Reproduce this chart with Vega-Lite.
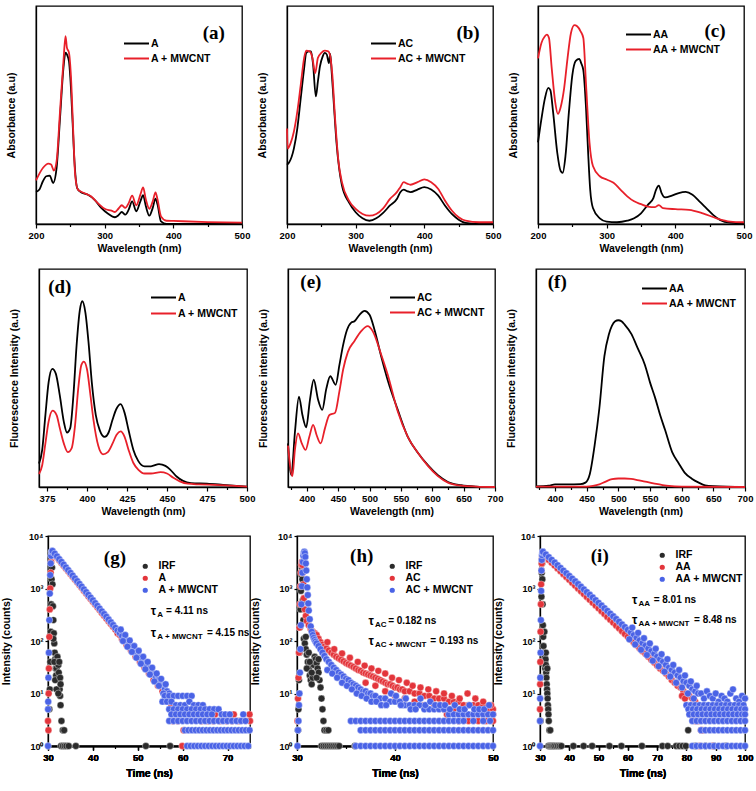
{
"$schema": "https://vega.github.io/schema/vega-lite/v6.json",
"padding": {"left": 0, "top": 5, "right": 0, "bottom": 0},
"background": "white",
"config": {
  "font": "Liberation Sans",
  "view": {"stroke": "#000", "strokeWidth": 1.3},
  "axis": {"domainColor": "#000", "domainWidth": 1.3, "tickColor": "#000", "tickWidth": 1.2, "tickSize": 4, "labelFont": "Liberation Sans", "labelFontWeight": "bold", "labelFontSize": 9.5, "labelColor": "#000", "titleFont": "Liberation Sans", "titleFontWeight": "bold", "titleFontSize": 10.5, "titleColor": "#000", "grid": false, "labelPadding": 2, "titlePadding": 4, "labelFlush": false, "labelOverlap": false},
  "legend": {"labelFont": "Liberation Sans", "labelFontWeight": "bold", "labelFontSize": 10.5, "labelColor": "#000", "padding": 0, "rowPadding": 2, "title": null, "orient": "none"}
},
"datasets": {
"a": [
{"s":"A","x":200,"y":0.147},{"s":"A","x":205,"y":0.158},{"s":"A","x":210,"y":0.196},{"s":"A","x":215,"y":0.219},{"s":"A","x":220,"y":0.222},{"s":"A","x":225,"y":0.188},{"s":"A","x":230,"y":0.257},{"s":"A","x":235,"y":0.487},{"s":"A","x":240,"y":0.717},{"s":"A","x":243,"y":0.786},{"s":"A","x":245,"y":0.778},{"s":"A","x":248,"y":0.747},{"s":"A","x":250,"y":0.671},{"s":"A","x":253,"y":0.487},{"s":"A","x":256,"y":0.288},{"s":"A","x":260,"y":0.165},{"s":"A","x":265,"y":0.147},{"s":"A","x":275,"y":0.135},{"s":"A","x":285,"y":0.112},{"s":"A","x":295,"y":0.074},{"s":"A","x":305,"y":0.047},{"s":"A","x":315,"y":0.031},{"s":"A","x":320,"y":0.040},{"s":"A","x":325,"y":0.055},{"s":"A","x":330,"y":0.043},{"s":"A","x":335,"y":0.066},{"s":"A","x":340,"y":0.104},{"s":"A","x":346,"y":0.058},{"s":"A","x":352,"y":0.104},{"s":"A","x":356,"y":0.132},{"s":"A","x":360,"y":0.081},{"s":"A","x":365,"y":0.038},{"s":"A","x":370,"y":0.074},{"s":"A","x":374,"y":0.116},{"s":"A","x":377,"y":0.089},{"s":"A","x":382,"y":0.012},{"s":"A","x":390,"y":0.0},{"s":"A","x":400,"y":0.0},{"s":"A","x":450,"y":0.0},{"s":"A","x":500,"y":0.0},
{"s":"A + MWCNT","x":200,"y":0.2},{"s":"A + MWCNT","x":210,"y":0.257},{"s":"A + MWCNT","x":218,"y":0.277},{"s":"A + MWCNT","x":222,"y":0.273},{"s":"A + MWCNT","x":226,"y":0.245},{"s":"A + MWCNT","x":230,"y":0.288},{"s":"A + MWCNT","x":235,"y":0.518},{"s":"A + MWCNT","x":240,"y":0.747},{"s":"A + MWCNT","x":243,"y":0.862},{"s":"A + MWCNT","x":245,"y":0.809},{"s":"A + MWCNT","x":248,"y":0.786},{"s":"A + MWCNT","x":251,"y":0.671},{"s":"A + MWCNT","x":254,"y":0.441},{"s":"A + MWCNT","x":257,"y":0.227},{"s":"A + MWCNT","x":261,"y":0.158},{"s":"A + MWCNT","x":270,"y":0.142},{"s":"A + MWCNT","x":280,"y":0.127},{"s":"A + MWCNT","x":290,"y":0.096},{"s":"A + MWCNT","x":300,"y":0.070},{"s":"A + MWCNT","x":310,"y":0.061},{"s":"A + MWCNT","x":315,"y":0.055},{"s":"A + MWCNT","x":320,"y":0.070},{"s":"A + MWCNT","x":325,"y":0.086},{"s":"A + MWCNT","x":330,"y":0.074},{"s":"A + MWCNT","x":335,"y":0.096},{"s":"A + MWCNT","x":340,"y":0.130},{"s":"A + MWCNT","x":346,"y":0.086},{"s":"A + MWCNT","x":352,"y":0.135},{"s":"A + MWCNT","x":356,"y":0.168},{"s":"A + MWCNT","x":360,"y":0.112},{"s":"A + MWCNT","x":365,"y":0.070},{"s":"A + MWCNT","x":370,"y":0.104},{"s":"A + MWCNT","x":374,"y":0.145},{"s":"A + MWCNT","x":377,"y":0.112},{"s":"A + MWCNT","x":382,"y":0.035},{"s":"A + MWCNT","x":390,"y":0.015},{"s":"A + MWCNT","x":400,"y":0.014},{"s":"A + MWCNT","x":450,"y":0.009},{"s":"A + MWCNT","x":500,"y":0.006}
],
"b": [
{"s":"AC","x":200,"y":0.272},{"s":"AC","x":203,"y":0.282},{"s":"AC","x":210,"y":0.346},{"s":"AC","x":215,"y":0.438},{"s":"AC","x":220,"y":0.577},{"s":"AC","x":225,"y":0.715},{"s":"AC","x":228,"y":0.785},{"s":"AC","x":232,"y":0.792},{"s":"AC","x":235,"y":0.792},{"s":"AC","x":238,"y":0.731},{"s":"AC","x":242,"y":0.585},{"s":"AC","x":245,"y":0.654},{"s":"AC","x":248,"y":0.723},{"s":"AC","x":252,"y":0.769},{"s":"AC","x":255,"y":0.785},{"s":"AC","x":258,"y":0.777},{"s":"AC","x":261,"y":0.738},{"s":"AC","x":263,"y":0.780},{"s":"AC","x":265,"y":0.7},{"s":"AC","x":268,"y":0.561},{"s":"AC","x":272,"y":0.377},{"s":"AC","x":276,"y":0.254},{"s":"AC","x":280,"y":0.177},{"s":"AC","x":290,"y":0.1},{"s":"AC","x":300,"y":0.054},{"s":"AC","x":310,"y":0.026},{"s":"AC","x":320,"y":0.015},{"s":"AC","x":330,"y":0.026},{"s":"AC","x":340,"y":0.051},{"s":"AC","x":350,"y":0.085},{"s":"AC","x":360,"y":0.115},{"s":"AC","x":365,"y":0.146},{"s":"AC","x":370,"y":0.158},{"s":"AC","x":375,"y":0.151},{"s":"AC","x":380,"y":0.146},{"s":"AC","x":390,"y":0.158},{"s":"AC","x":400,"y":0.169},{"s":"AC","x":410,"y":0.158},{"s":"AC","x":420,"y":0.131},{"s":"AC","x":430,"y":0.085},{"s":"AC","x":440,"y":0.046},{"s":"AC","x":450,"y":0.02},{"s":"AC","x":460,"y":0.005},{"s":"AC","x":480,"y":0.0},{"s":"AC","x":500,"y":0.0},
{"s":"AC + MWCNT","x":200,"y":0.438},{"s":"AC + MWCNT","x":201,"y":0.346},{"s":"AC + MWCNT","x":205,"y":0.369},{"s":"AC + MWCNT","x":210,"y":0.423},{"s":"AC + MWCNT","x":215,"y":0.515},{"s":"AC + MWCNT","x":220,"y":0.638},{"s":"AC + MWCNT","x":225,"y":0.762},{"s":"AC + MWCNT","x":228,"y":0.795},{"s":"AC + MWCNT","x":233,"y":0.792},{"s":"AC + MWCNT","x":237,"y":0.762},{"s":"AC + MWCNT","x":241,"y":0.692},{"s":"AC + MWCNT","x":245,"y":0.762},{"s":"AC + MWCNT","x":250,"y":0.785},{"s":"AC + MWCNT","x":255,"y":0.795},{"s":"AC + MWCNT","x":260,"y":0.792},{"s":"AC + MWCNT","x":263,"y":0.769},{"s":"AC + MWCNT","x":266,"y":0.685},{"s":"AC + MWCNT","x":270,"y":0.485},{"s":"AC + MWCNT","x":275,"y":0.285},{"s":"AC + MWCNT","x":280,"y":0.192},{"s":"AC + MWCNT","x":290,"y":0.108},{"s":"AC + MWCNT","x":300,"y":0.069},{"s":"AC + MWCNT","x":310,"y":0.046},{"s":"AC + MWCNT","x":320,"y":0.038},{"s":"AC + MWCNT","x":330,"y":0.046},{"s":"AC + MWCNT","x":340,"y":0.072},{"s":"AC + MWCNT","x":350,"y":0.115},{"s":"AC + MWCNT","x":360,"y":0.146},{"s":"AC + MWCNT","x":365,"y":0.169},{"s":"AC + MWCNT","x":370,"y":0.192},{"s":"AC + MWCNT","x":375,"y":0.185},{"s":"AC + MWCNT","x":380,"y":0.18},{"s":"AC + MWCNT","x":390,"y":0.192},{"s":"AC + MWCNT","x":400,"y":0.205},{"s":"AC + MWCNT","x":410,"y":0.192},{"s":"AC + MWCNT","x":420,"y":0.162},{"s":"AC + MWCNT","x":430,"y":0.108},{"s":"AC + MWCNT","x":440,"y":0.062},{"s":"AC + MWCNT","x":450,"y":0.031},{"s":"AC + MWCNT","x":460,"y":0.015},{"s":"AC + MWCNT","x":480,"y":0.008},{"s":"AC + MWCNT","x":500,"y":0.008}
],
"c": [
{"s":"AA","x":200,"y":0.374},{"s":"AA","x":205,"y":0.482},{"s":"AA","x":210,"y":0.575},{"s":"AA","x":215,"y":0.624},{"s":"AA","x":218,"y":0.614},{"s":"AA","x":222,"y":0.513},{"s":"AA","x":228,"y":0.328},{"s":"AA","x":233,"y":0.243},{"s":"AA","x":236,"y":0.235},{"s":"AA","x":240,"y":0.312},{"s":"AA","x":245,"y":0.513},{"s":"AA","x":250,"y":0.683},{"s":"AA","x":255,"y":0.748},{"s":"AA","x":260,"y":0.757},{"s":"AA","x":263,"y":0.737},{"s":"AA","x":266,"y":0.706},{"s":"AA","x":270,"y":0.529},{"s":"AA","x":273,"y":0.328},{"s":"AA","x":276,"y":0.158},{"s":"AA","x":280,"y":0.073},{"s":"AA","x":290,"y":0.026},{"s":"AA","x":300,"y":0.011},{"s":"AA","x":315,"y":0.008},{"s":"AA","x":330,"y":0.015},{"s":"AA","x":340,"y":0.026},{"s":"AA","x":350,"y":0.049},{"s":"AA","x":360,"y":0.088},{"s":"AA","x":368,"y":0.119},{"s":"AA","x":372,"y":0.158},{"s":"AA","x":376,"y":0.176},{"s":"AA","x":380,"y":0.142},{"s":"AA","x":385,"y":0.122},{"s":"AA","x":395,"y":0.130},{"s":"AA","x":405,"y":0.142},{"s":"AA","x":415,"y":0.147},{"s":"AA","x":425,"y":0.134},{"s":"AA","x":435,"y":0.104},{"s":"AA","x":445,"y":0.073},{"s":"AA","x":455,"y":0.042},{"s":"AA","x":465,"y":0.019},{"s":"AA","x":480,"y":0.006},{"s":"AA","x":500,"y":0.003},
{"s":"AA + MWCNT","x":200,"y":0.760},{"s":"AA + MWCNT","x":205,"y":0.830},{"s":"AA + MWCNT","x":210,"y":0.861},{"s":"AA + MWCNT","x":213,"y":0.869},{"s":"AA + MWCNT","x":216,"y":0.853},{"s":"AA + MWCNT","x":220,"y":0.714},{"s":"AA + MWCNT","x":225,"y":0.560},{"s":"AA + MWCNT","x":229,"y":0.505},{"s":"AA + MWCNT","x":233,"y":0.536},{"s":"AA + MWCNT","x":238,"y":0.621},{"s":"AA + MWCNT","x":243,"y":0.760},{"s":"AA + MWCNT","x":248,"y":0.876},{"s":"AA + MWCNT","x":253,"y":0.912},{"s":"AA + MWCNT","x":257,"y":0.907},{"s":"AA + MWCNT","x":262,"y":0.884},{"s":"AA + MWCNT","x":266,"y":0.853},{"s":"AA + MWCNT","x":270,"y":0.637},{"s":"AA + MWCNT","x":275,"y":0.374},{"s":"AA + MWCNT","x":280,"y":0.266},{"s":"AA + MWCNT","x":290,"y":0.219},{"s":"AA + MWCNT","x":300,"y":0.204},{"s":"AA + MWCNT","x":310,"y":0.189},{"s":"AA + MWCNT","x":320,"y":0.158},{"s":"AA + MWCNT","x":330,"y":0.127},{"s":"AA + MWCNT","x":340,"y":0.104},{"s":"AA + MWCNT","x":350,"y":0.091},{"s":"AA + MWCNT","x":360,"y":0.080},{"s":"AA + MWCNT","x":370,"y":0.077},{"s":"AA + MWCNT","x":376,"y":0.087},{"s":"AA + MWCNT","x":382,"y":0.073},{"s":"AA + MWCNT","x":400,"y":0.068},{"s":"AA + MWCNT","x":420,"y":0.065},{"s":"AA + MWCNT","x":440,"y":0.049},{"s":"AA + MWCNT","x":460,"y":0.026},{"s":"AA + MWCNT","x":480,"y":0.011},{"s":"AA + MWCNT","x":500,"y":0.008}
],
"d": [
{"s":"A","x":370,"y":0.107},{"s":"A","x":372,"y":0.17},{"s":"A","x":374,"y":0.33},{"s":"A","x":376,"y":0.48},{"s":"A","x":378.3,"y":0.542},{"s":"A","x":380.5,"y":0.52},{"s":"A","x":383,"y":0.42},{"s":"A","x":385.5,"y":0.3},{"s":"A","x":387.5,"y":0.25},{"s":"A","x":389.5,"y":0.27},{"s":"A","x":391.5,"y":0.42},{"s":"A","x":393.5,"y":0.65},{"s":"A","x":395.5,"y":0.81},{"s":"A","x":397.1,"y":0.852},{"s":"A","x":399,"y":0.80},{"s":"A","x":401,"y":0.66},{"s":"A","x":403,"y":0.48},{"s":"A","x":405.5,"y":0.33},{"s":"A","x":408,"y":0.26},{"s":"A","x":411,"y":0.23},{"s":"A","x":413.5,"y":0.25},{"s":"A","x":416,"y":0.31},{"s":"A","x":418.5,"y":0.36},{"s":"A","x":421,"y":0.38},{"s":"A","x":423.5,"y":0.34},{"s":"A","x":426,"y":0.26},{"s":"A","x":429,"y":0.17},{"s":"A","x":432,"y":0.12},{"s":"A","x":436,"y":0.095},{"s":"A","x":440,"y":0.095},{"s":"A","x":445,"y":0.105},{"s":"A","x":449,"y":0.097},{"s":"A","x":452,"y":0.08},{"s":"A","x":456,"y":0.048},{"s":"A","x":460,"y":0.028},{"s":"A","x":465,"y":0.018},{"s":"A","x":475,"y":0.015},{"s":"A","x":485,"y":0.01},{"s":"A","x":500,"y":0.002},
{"s":"A + MWCNT","x":370,"y":0.06},{"s":"A + MWCNT","x":372,"y":0.1},{"s":"A + MWCNT","x":374,"y":0.2},{"s":"A + MWCNT","x":376,"y":0.3},{"s":"A + MWCNT","x":378.5,"y":0.35},{"s":"A + MWCNT","x":381,"y":0.33},{"s":"A + MWCNT","x":383,"y":0.27},{"s":"A + MWCNT","x":385.5,"y":0.2},{"s":"A + MWCNT","x":388,"y":0.16},{"s":"A + MWCNT","x":390.5,"y":0.18},{"s":"A + MWCNT","x":392.5,"y":0.28},{"s":"A + MWCNT","x":394.5,"y":0.45},{"s":"A + MWCNT","x":396.5,"y":0.56},{"s":"A + MWCNT","x":398,"y":0.575},{"s":"A + MWCNT","x":400,"y":0.54},{"s":"A + MWCNT","x":402,"y":0.43},{"s":"A + MWCNT","x":404,"y":0.31},{"s":"A + MWCNT","x":407,"y":0.19},{"s":"A + MWCNT","x":410,"y":0.15},{"s":"A + MWCNT","x":413,"y":0.16},{"s":"A + MWCNT","x":416,"y":0.2},{"s":"A + MWCNT","x":418.5,"y":0.24},{"s":"A + MWCNT","x":421,"y":0.255},{"s":"A + MWCNT","x":423.5,"y":0.23},{"s":"A + MWCNT","x":426,"y":0.17},{"s":"A + MWCNT","x":429,"y":0.11},{"s":"A + MWCNT","x":432,"y":0.08},{"s":"A + MWCNT","x":436,"y":0.062},{"s":"A + MWCNT","x":440,"y":0.062},{"s":"A + MWCNT","x":446,"y":0.068},{"s":"A + MWCNT","x":450,"y":0.062},{"s":"A + MWCNT","x":454,"y":0.042},{"s":"A + MWCNT","x":458,"y":0.026},{"s":"A + MWCNT","x":463,"y":0.015},{"s":"A + MWCNT","x":470,"y":0.012},{"s":"A + MWCNT","x":480,"y":0.01},{"s":"A + MWCNT","x":490,"y":0.006},{"s":"A + MWCNT","x":500,"y":0.002}
],
"e": [
{"s":"AC","x":370,"y":0.2},{"s":"AC","x":375.3,"y":0.054},{"s":"AC","x":381,"y":0.25},{"s":"AC","x":387.5,"y":0.415},{"s":"AC","x":393,"y":0.33},{"s":"AC","x":399,"y":0.274},{"s":"AC","x":405,"y":0.4},{"s":"AC","x":411,"y":0.492},{"s":"AC","x":418,"y":0.4},{"s":"AC","x":424.6,"y":0.354},{"s":"AC","x":431,"y":0.45},{"s":"AC","x":437.4,"y":0.508},{"s":"AC","x":446,"y":0.469},{"s":"AC","x":452,"y":0.56},{"s":"AC","x":457.5,"y":0.646},{"s":"AC","x":464,"y":0.72},{"s":"AC","x":470.8,"y":0.754},{"s":"AC","x":476,"y":0.76},{"s":"AC","x":484,"y":0.79},{"s":"AC","x":492,"y":0.808},{"s":"AC","x":500,"y":0.79},{"s":"AC","x":508,"y":0.72},{"s":"AC","x":518.5,"y":0.6},{"s":"AC","x":529,"y":0.49},{"s":"AC","x":545,"y":0.354},{"s":"AC","x":561,"y":0.23},{"s":"AC","x":577,"y":0.157},{"s":"AC","x":593,"y":0.1},{"s":"AC","x":609,"y":0.054},{"s":"AC","x":625,"y":0.023},{"s":"AC","x":646,"y":0.008},{"s":"AC","x":670,"y":0.002},{"s":"AC","x":700,"y":0.0},
{"s":"AC + MWCNT","x":370,"y":0.19},{"s":"AC + MWCNT","x":377,"y":0.05},{"s":"AC + MWCNT","x":381,"y":0.17},{"s":"AC + MWCNT","x":386,"y":0.246},{"s":"AC + MWCNT","x":392,"y":0.2},{"s":"AC + MWCNT","x":398,"y":0.17},{"s":"AC + MWCNT","x":404,"y":0.23},{"s":"AC + MWCNT","x":410,"y":0.285},{"s":"AC + MWCNT","x":416,"y":0.235},{"s":"AC + MWCNT","x":422,"y":0.2},{"s":"AC + MWCNT","x":429,"y":0.27},{"s":"AC + MWCNT","x":436,"y":0.33},{"s":"AC + MWCNT","x":445,"y":0.34},{"s":"AC + MWCNT","x":452,"y":0.44},{"s":"AC + MWCNT","x":458,"y":0.54},{"s":"AC + MWCNT","x":465.5,"y":0.62},{"s":"AC + MWCNT","x":476,"y":0.67},{"s":"AC + MWCNT","x":486.7,"y":0.715},{"s":"AC + MWCNT","x":497,"y":0.738},{"s":"AC + MWCNT","x":505,"y":0.715},{"s":"AC + MWCNT","x":518.5,"y":0.608},{"s":"AC + MWCNT","x":529,"y":0.515},{"s":"AC + MWCNT","x":545,"y":0.346},{"s":"AC + MWCNT","x":561,"y":0.23},{"s":"AC + MWCNT","x":577,"y":0.157},{"s":"AC + MWCNT","x":593,"y":0.097},{"s":"AC + MWCNT","x":609,"y":0.05},{"s":"AC + MWCNT","x":625,"y":0.02},{"s":"AC + MWCNT","x":646,"y":0.006},{"s":"AC + MWCNT","x":670,"y":0.002},{"s":"AC + MWCNT","x":700,"y":0.0}
],
"f": [
{"s":"AA","x":370,"y":0.003},{"s":"AA","x":390,"y":0.006},{"s":"AA","x":400,"y":0.012},{"s":"AA","x":420,"y":0.012},{"s":"AA","x":440,"y":0.013},{"s":"AA","x":448,"y":0.02},{"s":"AA","x":455,"y":0.06},{"s":"AA","x":463,"y":0.2},{"s":"AA","x":470,"y":0.36},{"s":"AA","x":478,"y":0.6},{"s":"AA","x":485,"y":0.7},{"s":"AA","x":490,"y":0.74},{"s":"AA","x":495,"y":0.76},{"s":"AA","x":500,"y":0.765},{"s":"AA","x":505,"y":0.76},{"s":"AA","x":510,"y":0.745},{"s":"AA","x":521,"y":0.7},{"s":"AA","x":530,"y":0.64},{"s":"AA","x":542,"y":0.56},{"s":"AA","x":550,"y":0.48},{"s":"AA","x":558,"y":0.41},{"s":"AA","x":566,"y":0.33},{"s":"AA","x":574,"y":0.26},{"s":"AA","x":585,"y":0.16},{"s":"AA","x":595,"y":0.11},{"s":"AA","x":605,"y":0.065},{"s":"AA","x":616,"y":0.038},{"s":"AA","x":627,"y":0.02},{"s":"AA","x":637,"y":0.008},{"s":"AA","x":650,"y":0.004},{"s":"AA","x":700,"y":0.0},
{"s":"AA + MWCNT","x":370,"y":0.002},{"s":"AA + MWCNT","x":450,"y":0.002},{"s":"AA + MWCNT","x":460,"y":0.005},{"s":"AA + MWCNT","x":470,"y":0.012},{"s":"AA + MWCNT","x":480,"y":0.025},{"s":"AA + MWCNT","x":490,"y":0.036},{"s":"AA + MWCNT","x":500,"y":0.039},{"s":"AA + MWCNT","x":510,"y":0.039},{"s":"AA + MWCNT","x":520,"y":0.037},{"s":"AA + MWCNT","x":530,"y":0.032},{"s":"AA + MWCNT","x":540,"y":0.026},{"s":"AA + MWCNT","x":550,"y":0.02},{"s":"AA + MWCNT","x":560,"y":0.014},{"s":"AA + MWCNT","x":570,"y":0.009},{"s":"AA + MWCNT","x":580,"y":0.005},{"s":"AA + MWCNT","x":600,"y":0.002},{"s":"AA + MWCNT","x":700,"y":0.0}
],
"g": [
{"s":"IRF","t":30.3,"c":5},{"s":"IRF","t":30.4,"c":12},{"s":"IRF","t":30.5,"c":40},{"s":"IRF","t":30.6,"c":150},{"s":"IRF","t":30.7,"c":500},{"s":"IRF","t":30.8,"c":1500},{"s":"IRF","t":30.9,"c":2500},{"s":"IRF","t":31.0,"c":1200},{"s":"IRF","t":31.1,"c":460},{"s":"IRF","t":31.2,"c":250},{"s":"IRF","t":31.3,"c":140},{"s":"IRF","t":31.4,"c":90},{"s":"IRF","t":31.5,"c":60},{"s":"IRF","t":31.6,"c":45},{"s":"IRF","t":31.7,"c":30},{"s":"IRF","t":31.8,"c":22},{"s":"IRF","t":31.9,"c":30},{"s":"IRF","t":32.0,"c":45},{"s":"IRF","t":32.1,"c":50},{"s":"IRF","t":32.2,"c":40},{"s":"IRF","t":32.3,"c":35},{"s":"IRF","t":32.4,"c":25},{"s":"IRF","t":32.5,"c":18},{"s":"IRF","t":32.6,"c":12},{"s":"IRF","t":32.7,"c":9},{"s":"IRF","t":32.8,"c":6},{"s":"IRF","t":33.0,"c":3},{"s":"IRF","t":33.3,"c":2},{"s":"IRF","t":33.6,"c":2},{"s":"IRF","t":31.2,"c":110},{"s":"IRF","t":31.4,"c":40},{"s":"IRF","t":31.6,"c":18},{"s":"IRF","t":31.9,"c":12},{"s":"IRF","t":32.3,"c":10},{"s":"IRF","t":32.5,"c":40},{"s":"IRF","t":32.7,"c":20},{"s":"IRF","t":32.8,"c":15},{"s":"IRF","t":32.9,"c":1},{"s":"IRF","t":33.3,"c":1},{"s":"IRF","t":33.7,"c":1},{"s":"IRF","t":34.1,"c":1},{"s":"IRF","t":34.6,"c":1},{"s":"IRF","t":36.2,"c":1},{"s":"IRF","t":51.8,"c":1},{"s":"IRF","t":57.2,"c":1},
{"s":"A","t":30.0,"c":3},{"s":"A","t":30.1,"c":2},{"s":"A","t":30.15,"c":10},{"s":"A","t":30.2,"c":30},{"s":"A","t":30.3,"c":120},{"s":"A","t":30.4,"c":400},{"s":"A","t":30.5,"c":1000},{"s":"A","t":30.6,"c":2000},{"s":"A","t":30.7,"c":3200},{"s":"A","t":30.8,"c":4200},{"s":"A","t":30.9,"c":4800},
{"s":"A","t":31,"c":5000},{"s":"A","t":31.5,"c":4430},{"s":"A","t":32,"c":3920},{"s":"A","t":32.5,"c":3470},{"s":"A","t":33,"c":3070},{"s":"A","t":33.5,"c":2720},{"s":"A","t":34,"c":2410},{"s":"A","t":34.5,"c":2130},{"s":"A","t":35,"c":1890},{"s":"A","t":35.5,"c":1670},{"s":"A","t":36,"c":1480},{"s":"A","t":36.5,"c":1310},{"s":"A","t":37,"c":1160},{"s":"A","t":37.5,"c":1030},{"s":"A","t":38,"c":910},{"s":"A","t":38.5,"c":805},{"s":"A","t":39,"c":713},{"s":"A","t":39.5,"c":631},{"s":"A","t":40,"c":559},{"s":"A","t":40.5,"c":495},{"s":"A","t":41,"c":438},{"s":"A","t":41.5,"c":388},{"s":"A","t":42,"c":343},{"s":"A","t":42.5,"c":304},{"s":"A","t":43,"c":269},{"s":"A","t":43.5,"c":238},{"s":"A","t":44,"c":211},{"s":"A","t":44.5,"c":187},{"s":"A","t":45,"c":165},{"s":"A","t":45.5,"c":140},{"s":"A","t":46,"c":130},{"s":"A","t":46.5,"c":108},{"s":"A","t":47,"c":102},{"s":"A","t":47.5,"c":84},{"s":"A","t":48,"c":80},{"s":"A","t":48.5,"c":66},{"s":"A","t":49,"c":63},{"s":"A","t":49.5,"c":50},{"s":"A","t":50,"c":49},{"s":"A","t":50.5,"c":40},{"s":"A","t":51,"c":38},{"s":"A","t":51.5,"c":31},{"s":"A","t":52,"c":30},{"s":"A","t":52.5,"c":24},{"s":"A","t":53,"c":24},{"s":"A","t":53.5,"c":18},{"s":"A","t":54,"c":18},{"s":"A","t":54.5,"c":14},{"s":"A","t":55,"c":15},{"s":"A","t":55.5,"c":11},{"s":"A","t":56,"c":11},{"s":"A","t":56.5,"c":8},{"s":"A","t":57,"c":9},{"s":"A","t":57.5,"c":6},{"s":"A","t":58,"c":5},
{"s":"A","t":57.8,"c":3},{"s":"A","t":58.9,"c":3},{"s":"A","t":64.2,"c":3},{"s":"A","t":65.6,"c":3},{"s":"A","t":66.8,"c":3},{"s":"A","t":68.3,"c":3},{"s":"A","t":69.8,"c":3},{"s":"A","t":71,"c":3},{"s":"A","t":72.5,"c":3},{"s":"A","t":75,"c":3},{"s":"A","t":67.2,"c":4},{"s":"A","t":71.4,"c":4},{"s":"A","t":74.9,"c":4},{"s":"A","t":60.2,"c":2},{"s":"A","t":59.9,"c":1},{"s":"A","t":56.2,"c":7},{"s":"A","t":57.2,"c":5},
{"s":"A + MWCNT","t":30.0,"c":1},{"s":"A + MWCNT","t":30.02,"c":5},{"s":"A + MWCNT","t":30.05,"c":7},{"s":"A + MWCNT","t":30.1,"c":20},{"s":"A + MWCNT","t":30.2,"c":60},{"s":"A + MWCNT","t":30.3,"c":250},{"s":"A + MWCNT","t":30.4,"c":800},{"s":"A + MWCNT","t":30.5,"c":1800},{"s":"A + MWCNT","t":30.6,"c":3000},{"s":"A + MWCNT","t":30.7,"c":4200},{"s":"A + MWCNT","t":30.8,"c":5000},{"s":"A + MWCNT","t":30.9,"c":5200},
{"s":"A + MWCNT","t":31,"c":5200},{"s":"A + MWCNT","t":31.5,"c":4610},{"s":"A + MWCNT","t":32,"c":4090},{"s":"A + MWCNT","t":32.5,"c":3620},{"s":"A + MWCNT","t":33,"c":3210},{"s":"A + MWCNT","t":33.5,"c":2850},{"s":"A + MWCNT","t":34,"c":2520},{"s":"A + MWCNT","t":34.5,"c":2240},{"s":"A + MWCNT","t":35,"c":1985},{"s":"A + MWCNT","t":35.5,"c":1760},{"s":"A + MWCNT","t":36,"c":1560},{"s":"A + MWCNT","t":36.5,"c":1380},{"s":"A + MWCNT","t":37,"c":1225},{"s":"A + MWCNT","t":37.5,"c":1086},{"s":"A + MWCNT","t":38,"c":963},{"s":"A + MWCNT","t":38.5,"c":853},{"s":"A + MWCNT","t":39,"c":756},{"s":"A + MWCNT","t":39.5,"c":671},{"s":"A + MWCNT","t":40,"c":595},{"s":"A + MWCNT","t":40.5,"c":527},{"s":"A + MWCNT","t":41,"c":467},{"s":"A + MWCNT","t":41.5,"c":414},{"s":"A + MWCNT","t":42,"c":367},{"s":"A + MWCNT","t":42.5,"c":326},{"s":"A + MWCNT","t":43,"c":289},{"s":"A + MWCNT","t":43.5,"c":256},{"s":"A + MWCNT","t":44,"c":227},{"s":"A + MWCNT","t":44.5,"c":201},{"s":"A + MWCNT","t":45,"c":178},{"s":"A + MWCNT","t":45.5,"c":158},{"s":"A + MWCNT","t":46,"c":140},{"s":"A + MWCNT","t":46.5,"c":124},{"s":"A + MWCNT","t":47,"c":110},{"s":"A + MWCNT","t":47.5,"c":98},{"s":"A + MWCNT","t":48,"c":87},{"s":"A + MWCNT","t":48.5,"c":77},{"s":"A + MWCNT","t":49,"c":68},{"s":"A + MWCNT","t":49.5,"c":60},{"s":"A + MWCNT","t":50,"c":54},{"s":"A + MWCNT","t":50.5,"c":48},{"s":"A + MWCNT","t":51,"c":42},{"s":"A + MWCNT","t":51.5,"c":37},{"s":"A + MWCNT","t":52,"c":33},{"s":"A + MWCNT","t":52.5,"c":29},{"s":"A + MWCNT","t":53,"c":26},{"s":"A + MWCNT","t":53.5,"c":23},{"s":"A + MWCNT","t":54,"c":20},{"s":"A + MWCNT","t":54.5,"c":18},{"s":"A + MWCNT","t":55,"c":16},{"s":"A + MWCNT","t":55.5,"c":14},{"s":"A + MWCNT","t":56,"c":12},{"s":"A + MWCNT","t":56.5,"c":11},{"s":"A + MWCNT","t":57,"c":10},
{"s":"A + MWCNT","t":46.2,"c":165},{"s":"A + MWCNT","t":47.2,"c":130},{"s":"A + MWCNT","t":48.2,"c":102},{"s":"A + MWCNT","t":49.2,"c":80},{"s":"A + MWCNT","t":50.2,"c":65},{"s":"A + MWCNT","t":51.2,"c":50},{"s":"A + MWCNT","t":52.2,"c":40},{"s":"A + MWCNT","t":53.2,"c":31},{"s":"A + MWCNT","t":54.2,"c":24},{"s":"A + MWCNT","t":55.2,"c":19},{"s":"A + MWCNT","t":56.2,"c":15},
{"s":"A + MWCNT","t":46.7,"c":100},{"s":"A + MWCNT","t":47.7,"c":78},{"s":"A + MWCNT","t":48.7,"c":62},{"s":"A + MWCNT","t":49.7,"c":48},{"s":"A + MWCNT","t":50.7,"c":37},{"s":"A + MWCNT","t":51.7,"c":29},{"s":"A + MWCNT","t":52.7,"c":23},{"s":"A + MWCNT","t":53.7,"c":17},{"s":"A + MWCNT","t":54.7,"c":14},{"s":"A + MWCNT","t":55.7,"c":10},{"s":"A + MWCNT","t":56.7,"c":8},
{"s":"A + MWCNT","t":56,"c":9},{"s":"A + MWCNT","t":57,"c":9},{"s":"A + MWCNT","t":58,"c":9},{"s":"A + MWCNT","t":59,"c":9},{"s":"A + MWCNT","t":60,"c":9},{"s":"A + MWCNT","t":61,"c":9},{"s":"A + MWCNT","t":62,"c":9},
{"s":"A + MWCNT","t":55.5,"c":7},{"s":"A + MWCNT","t":56.5,"c":7},{"s":"A + MWCNT","t":57.5,"c":7},{"s":"A + MWCNT","t":58.5,"c":6},{"s":"A + MWCNT","t":59.5,"c":6},{"s":"A + MWCNT","t":60.5,"c":6},{"s":"A + MWCNT","t":61.5,"c":7},{"s":"A + MWCNT","t":62.5,"c":6},{"s":"A + MWCNT","t":63.5,"c":6},{"s":"A + MWCNT","t":64.5,"c":6},
{"s":"A + MWCNT","t":57,"c":5},{"s":"A + MWCNT","t":58,"c":5},{"s":"A + MWCNT","t":59,"c":5},{"s":"A + MWCNT","t":60,"c":5},{"s":"A + MWCNT","t":61,"c":5},{"s":"A + MWCNT","t":62,"c":5},{"s":"A + MWCNT","t":63,"c":5},{"s":"A + MWCNT","t":64,"c":5},{"s":"A + MWCNT","t":65,"c":5},{"s":"A + MWCNT","t":66,"c":5},{"s":"A + MWCNT","t":67,"c":5},{"s":"A + MWCNT","t":68,"c":5},
{"s":"A + MWCNT","t":57.5,"c":4},{"s":"A + MWCNT","t":58.5,"c":4},{"s":"A + MWCNT","t":59.5,"c":4},{"s":"A + MWCNT","t":60.5,"c":4},{"s":"A + MWCNT","t":61.5,"c":4},{"s":"A + MWCNT","t":62.5,"c":4},{"s":"A + MWCNT","t":63.5,"c":4},{"s":"A + MWCNT","t":64.5,"c":4},{"s":"A + MWCNT","t":65.5,"c":4},{"s":"A + MWCNT","t":66.5,"c":4},{"s":"A + MWCNT","t":68.7,"c":4},{"s":"A + MWCNT","t":69.5,"c":4},{"s":"A + MWCNT","t":70.5,"c":4},{"s":"A + MWCNT","t":73.5,"c":4},
{"s":"A + MWCNT","t":57,"c":3},{"s":"A + MWCNT","t":58,"c":3},{"s":"A + MWCNT","t":59,"c":3},{"s":"A + MWCNT","t":60,"c":3},{"s":"A + MWCNT","t":61,"c":3},{"s":"A + MWCNT","t":62,"c":3},{"s":"A + MWCNT","t":63,"c":3},{"s":"A + MWCNT","t":64,"c":3},{"s":"A + MWCNT","t":65,"c":3},{"s":"A + MWCNT","t":66,"c":3},{"s":"A + MWCNT","t":67,"c":3},{"s":"A + MWCNT","t":68,"c":3},{"s":"A + MWCNT","t":69,"c":3},{"s":"A + MWCNT","t":70,"c":3},{"s":"A + MWCNT","t":71,"c":3},{"s":"A + MWCNT","t":72,"c":3},{"s":"A + MWCNT","t":73,"c":3},{"s":"A + MWCNT","t":74,"c":3},
{"s":"A + MWCNT","t":60.5,"c":2},{"s":"A + MWCNT","t":61.3,"c":2},{"s":"A + MWCNT","t":62.1,"c":2},{"s":"A + MWCNT","t":62.9,"c":2},{"s":"A + MWCNT","t":63.7,"c":2},{"s":"A + MWCNT","t":64.5,"c":2},{"s":"A + MWCNT","t":65.3,"c":2},{"s":"A + MWCNT","t":66.1,"c":2},{"s":"A + MWCNT","t":66.9,"c":2},{"s":"A + MWCNT","t":67.7,"c":2},{"s":"A + MWCNT","t":68.5,"c":2},{"s":"A + MWCNT","t":69.3,"c":2},{"s":"A + MWCNT","t":70.1,"c":2},{"s":"A + MWCNT","t":70.9,"c":2},{"s":"A + MWCNT","t":71.7,"c":2},{"s":"A + MWCNT","t":72.5,"c":2},{"s":"A + MWCNT","t":73.3,"c":2},{"s":"A + MWCNT","t":74.1,"c":2},{"s":"A + MWCNT","t":74.9,"c":2},
{"s":"A + MWCNT","t":61,"c":1},{"s":"A + MWCNT","t":61.8,"c":1},{"s":"A + MWCNT","t":62.6,"c":1},{"s":"A + MWCNT","t":63.4,"c":1},{"s":"A + MWCNT","t":64.2,"c":1},{"s":"A + MWCNT","t":65,"c":1},{"s":"A + MWCNT","t":65.8,"c":1},{"s":"A + MWCNT","t":66.6,"c":1},{"s":"A + MWCNT","t":67.4,"c":1},{"s":"A + MWCNT","t":68.2,"c":1},{"s":"A + MWCNT","t":69,"c":1},{"s":"A + MWCNT","t":69.8,"c":1},{"s":"A + MWCNT","t":70.6,"c":1},{"s":"A + MWCNT","t":71.4,"c":1},{"s":"A + MWCNT","t":72.2,"c":1},{"s":"A + MWCNT","t":73,"c":1},{"s":"A + MWCNT","t":73.8,"c":1},{"s":"A + MWCNT","t":74.6,"c":1}
],
"h": [
{"s":"IRF","t":30.1,"c":2},{"s":"IRF","t":30.15,"c":5},{"s":"IRF","t":30.2,"c":18},{"s":"IRF","t":30.25,"c":60},{"s":"IRF","t":30.3,"c":180},{"s":"IRF","t":30.35,"c":400},{"s":"IRF","t":30.4,"c":900},{"s":"IRF","t":30.45,"c":1800},{"s":"IRF","t":30.5,"c":2500},{"s":"IRF","t":30.55,"c":1500},{"s":"IRF","t":30.6,"c":600},{"s":"IRF","t":30.65,"c":250},{"s":"IRF","t":30.7,"c":110},{"s":"IRF","t":30.8,"c":90},{"s":"IRF","t":30.9,"c":70},{"s":"IRF","t":31.0,"c":55},{"s":"IRF","t":31.1,"c":40},{"s":"IRF","t":31.2,"c":30},{"s":"IRF","t":31.3,"c":22},{"s":"IRF","t":31.4,"c":18},{"s":"IRF","t":31.5,"c":15},{"s":"IRF","t":31.6,"c":20},{"s":"IRF","t":31.7,"c":35},{"s":"IRF","t":31.8,"c":50},{"s":"IRF","t":31.9,"c":45},{"s":"IRF","t":32.0,"c":38},{"s":"IRF","t":32.1,"c":30},{"s":"IRF","t":32.2,"c":25},{"s":"IRF","t":32.3,"c":18},{"s":"IRF","t":32.4,"c":13},{"s":"IRF","t":32.5,"c":8},{"s":"IRF","t":32.6,"c":5},{"s":"IRF","t":32.7,"c":3},{"s":"IRF","t":32.8,"c":2},{"s":"IRF","t":33.0,"c":2},{"s":"IRF","t":33.2,"c":2},{"s":"IRF","t":31.0,"c":30},{"s":"IRF","t":31.2,"c":60},{"s":"IRF","t":31.5,"c":25},{"s":"IRF","t":31.3,"c":40},{"s":"IRF","t":30.9,"c":120},{"s":"IRF","t":32.0,"c":20},{"s":"IRF","t":32.2,"c":45},{"s":"IRF","t":32.5,"c":1},{"s":"IRF","t":32.7,"c":1},{"s":"IRF","t":32.9,"c":1},{"s":"IRF","t":33.1,"c":1},{"s":"IRF","t":33.3,"c":1},{"s":"IRF","t":33.5,"c":1},{"s":"IRF","t":33.7,"c":1},{"s":"IRF","t":33.9,"c":1},{"s":"IRF","t":34.1,"c":1},{"s":"IRF","t":34.3,"c":1},{"s":"IRF","t":35.9,"c":1},
{"s":"AC","t":30.05,"c":3},{"s":"AC","t":30.1,"c":8},{"s":"AC","t":30.15,"c":20},{"s":"AC","t":30.2,"c":60},{"s":"AC","t":30.25,"c":180},{"s":"AC","t":30.3,"c":500},{"s":"AC","t":30.35,"c":1100},{"s":"AC","t":30.4,"c":2000},{"s":"AC","t":30.45,"c":2800},{"s":"AC","t":30.5,"c":3200},{"s":"AC","t":30.55,"c":2800},{"s":"AC","t":30.6,"c":2000},{"s":"AC","t":30.65,"c":1200},{"s":"AC","t":30.7,"c":650},{"s":"AC","t":30.8,"c":400},{"s":"AC","t":30.9,"c":300},{"s":"AC","t":31.0,"c":240},
{"s":"AC","t":31.2,"c":200},{"s":"AC","t":31.4,"c":170},{"s":"AC","t":31.6,"c":150},{"s":"AC","t":31.8,"c":140},{"s":"AC","t":32.0,"c":130},{"s":"AC","t":32.2,"c":110},{"s":"AC","t":32.4,"c":95},{"s":"AC","t":32.6,"c":85},{"s":"AC","t":32.8,"c":78},{"s":"AC","t":33.0,"c":72},{"s":"AC","t":33.25,"c":66},{"s":"AC","t":33.5,"c":60},{"s":"AC","t":33.75,"c":55},{"s":"AC","t":34.0,"c":50},{"s":"AC","t":34.25,"c":47},{"s":"AC","t":34.5,"c":44},{"s":"AC","t":34.75,"c":41},{"s":"AC","t":35.0,"c":38},{"s":"AC","t":35.25,"c":36},{"s":"AC","t":35.5,"c":34},{"s":"AC","t":35.75,"c":32},{"s":"AC","t":36.0,"c":30},{"s":"AC","t":36.25,"c":28},{"s":"AC","t":36.5,"c":27},{"s":"AC","t":36.75,"c":25},{"s":"AC","t":37.0,"c":24},{"s":"AC","t":37.25,"c":23},{"s":"AC","t":37.5,"c":22},{"s":"AC","t":37.75,"c":21},{"s":"AC","t":38.0,"c":20},{"s":"AC","t":38.25,"c":19},{"s":"AC","t":38.5,"c":18},{"s":"AC","t":38.75,"c":17},{"s":"AC","t":39.0,"c":16},{"s":"AC","t":39.25,"c":15},{"s":"AC","t":39.5,"c":15},{"s":"AC","t":39.75,"c":14},{"s":"AC","t":40.0,"c":13},{"s":"AC","t":40.25,"c":13},{"s":"AC","t":40.5,"c":12},{"s":"AC","t":40.75,"c":12},{"s":"AC","t":41.0,"c":11},{"s":"AC","t":41.5,"c":11},{"s":"AC","t":42.0,"c":10},{"s":"AC","t":42.5,"c":10},{"s":"AC","t":43.0,"c":9},{"s":"AC","t":43.5,"c":9},{"s":"AC","t":44.0,"c":8},{"s":"AC","t":44.5,"c":8},{"s":"AC","t":45.0,"c":8},{"s":"AC","t":45.5,"c":7},{"s":"AC","t":46.0,"c":7},{"s":"AC","t":46.5,"c":7},{"s":"AC","t":47.0,"c":6},{"s":"AC","t":47.5,"c":6},{"s":"AC","t":48.0,"c":6},{"s":"AC","t":48.5,"c":6},{"s":"AC","t":49.0,"c":6},{"s":"AC","t":49.5,"c":5},{"s":"AC","t":50.0,"c":5},
{"s":"AC","t":33.1,"c":95},{"s":"AC","t":33.8,"c":70},{"s":"AC","t":34.6,"c":58},{"s":"AC","t":35.4,"c":48},{"s":"AC","t":36.2,"c":40},{"s":"AC","t":36.9,"c":34},{"s":"AC","t":37.6,"c":30},{"s":"AC","t":38.3,"c":27},{"s":"AC","t":39.0,"c":24},{"s":"AC","t":39.7,"c":20},{"s":"AC","t":40.4,"c":18},{"s":"AC","t":41.2,"c":16},{"s":"AC","t":41.8,"c":14},{"s":"AC","t":42.6,"c":13},{"s":"AC","t":43.4,"c":12},{"s":"AC","t":44.2,"c":11},{"s":"AC","t":45.0,"c":10},{"s":"AC","t":45.8,"c":9},{"s":"AC","t":46.6,"c":8},{"s":"AC","t":47.4,"c":10},{"s":"AC","t":48.2,"c":8},{"s":"AC","t":49.0,"c":7},{"s":"AC","t":49.8,"c":6},
{"s":"AC","t":37.0,"c":16},{"s":"AC","t":38.0,"c":14},{"s":"AC","t":39.0,"c":11},{"s":"AC","t":40.0,"c":9},{"s":"AC","t":41.0,"c":8},{"s":"AC","t":42.0,"c":7},{"s":"AC","t":43.0,"c":6},{"s":"AC","t":44.0,"c":6},{"s":"AC","t":45.0,"c":5},{"s":"AC","t":46.0,"c":5},{"s":"AC","t":47.0,"c":4},{"s":"AC","t":48.0,"c":4},{"s":"AC","t":49.0,"c":4},{"s":"AC","t":50.0,"c":4},{"s":"AC","t":47.5,"c":3},{"s":"AC","t":48.5,"c":3},{"s":"AC","t":49.3,"c":3},{"s":"AC","t":50.0,"c":3},{"s":"AC","t":45.3,"c":4},{"s":"AC","t":46.5,"c":3},
{"s":"AC + MWCNT","t":30.05,"c":1},{"s":"AC + MWCNT","t":30.1,"c":2},{"s":"AC + MWCNT","t":30.15,"c":3},{"s":"AC + MWCNT","t":30.2,"c":6},{"s":"AC + MWCNT","t":30.25,"c":10},{"s":"AC + MWCNT","t":30.3,"c":25},{"s":"AC + MWCNT","t":30.35,"c":70},{"s":"AC + MWCNT","t":30.4,"c":200},{"s":"AC + MWCNT","t":30.45,"c":500},{"s":"AC + MWCNT","t":30.5,"c":1100},{"s":"AC + MWCNT","t":30.55,"c":2000},{"s":"AC + MWCNT","t":30.6,"c":3200},{"s":"AC + MWCNT","t":30.65,"c":4200},{"s":"AC + MWCNT","t":30.7,"c":4800},{"s":"AC + MWCNT","t":30.75,"c":5000},{"s":"AC + MWCNT","t":30.8,"c":4700},{"s":"AC + MWCNT","t":30.85,"c":4000},{"s":"AC + MWCNT","t":30.9,"c":3000},{"s":"AC + MWCNT","t":30.95,"c":2200},{"s":"AC + MWCNT","t":31.0,"c":1500},{"s":"AC + MWCNT","t":31.05,"c":1050},{"s":"AC + MWCNT","t":31.1,"c":750},{"s":"AC + MWCNT","t":31.15,"c":520},{"s":"AC + MWCNT","t":31.2,"c":380},{"s":"AC + MWCNT","t":31.3,"c":260},{"s":"AC + MWCNT","t":31.4,"c":190},{"s":"AC + MWCNT","t":31.5,"c":150},{"s":"AC + MWCNT","t":31.6,"c":130},{"s":"AC + MWCNT","t":31.7,"c":115},{"s":"AC + MWCNT","t":31.8,"c":105},{"s":"AC + MWCNT","t":31.9,"c":97},{"s":"AC + MWCNT","t":32.0,"c":90},
{"s":"AC + MWCNT","t":32.2,"c":80},{"s":"AC + MWCNT","t":32.4,"c":70},{"s":"AC + MWCNT","t":32.6,"c":60},{"s":"AC + MWCNT","t":32.8,"c":52},{"s":"AC + MWCNT","t":33.0,"c":45},{"s":"AC + MWCNT","t":33.25,"c":40},{"s":"AC + MWCNT","t":33.5,"c":35},{"s":"AC + MWCNT","t":33.75,"c":31},{"s":"AC + MWCNT","t":34.0,"c":28},{"s":"AC + MWCNT","t":34.25,"c":25},{"s":"AC + MWCNT","t":34.5,"c":23},{"s":"AC + MWCNT","t":34.75,"c":21},{"s":"AC + MWCNT","t":35.0,"c":19},{"s":"AC + MWCNT","t":35.25,"c":18},{"s":"AC + MWCNT","t":35.5,"c":16},{"s":"AC + MWCNT","t":35.75,"c":15},{"s":"AC + MWCNT","t":36.0,"c":14},{"s":"AC + MWCNT","t":36.25,"c":13},{"s":"AC + MWCNT","t":36.5,"c":12},{"s":"AC + MWCNT","t":36.75,"c":11},{"s":"AC + MWCNT","t":37.0,"c":11},{"s":"AC + MWCNT","t":37.25,"c":10},{"s":"AC + MWCNT","t":37.5,"c":10},{"s":"AC + MWCNT","t":37.75,"c":9},{"s":"AC + MWCNT","t":38.0,"c":9},{"s":"AC + MWCNT","t":38.5,"c":8},{"s":"AC + MWCNT","t":39.0,"c":8},{"s":"AC + MWCNT","t":39.5,"c":7},{"s":"AC + MWCNT","t":40.0,"c":7},{"s":"AC + MWCNT","t":40.5,"c":7},{"s":"AC + MWCNT","t":41.0,"c":6},{"s":"AC + MWCNT","t":41.5,"c":6},{"s":"AC + MWCNT","t":42.0,"c":6},{"s":"AC + MWCNT","t":42.5,"c":6},{"s":"AC + MWCNT","t":43.0,"c":5},{"s":"AC + MWCNT","t":43.5,"c":5},{"s":"AC + MWCNT","t":44.0,"c":5},{"s":"AC + MWCNT","t":44.5,"c":5},{"s":"AC + MWCNT","t":45.0,"c":5},{"s":"AC + MWCNT","t":45.5,"c":4},{"s":"AC + MWCNT","t":46.0,"c":4},{"s":"AC + MWCNT","t":46.5,"c":4},{"s":"AC + MWCNT","t":47.0,"c":4},{"s":"AC + MWCNT","t":47.5,"c":4},{"s":"AC + MWCNT","t":48.0,"c":4},{"s":"AC + MWCNT","t":48.5,"c":4},{"s":"AC + MWCNT","t":49.0,"c":4},{"s":"AC + MWCNT","t":49.5,"c":4},{"s":"AC + MWCNT","t":50.0,"c":4},
{"s":"AC + MWCNT","t":33.1,"c":28},{"s":"AC + MWCNT","t":33.6,"c":24},{"s":"AC + MWCNT","t":34.1,"c":20},{"s":"AC + MWCNT","t":34.6,"c":16},{"s":"AC + MWCNT","t":35.1,"c":14},{"s":"AC + MWCNT","t":35.6,"c":12},{"s":"AC + MWCNT","t":36.1,"c":10},{"s":"AC + MWCNT","t":36.6,"c":9},{"s":"AC + MWCNT","t":37.1,"c":8},{"s":"AC + MWCNT","t":37.6,"c":7},{"s":"AC + MWCNT","t":38.1,"c":7},{"s":"AC + MWCNT","t":38.6,"c":6},{"s":"AC + MWCNT","t":39.1,"c":6},{"s":"AC + MWCNT","t":39.6,"c":10},{"s":"AC + MWCNT","t":40.1,"c":9},{"s":"AC + MWCNT","t":40.6,"c":6},{"s":"AC + MWCNT","t":41.1,"c":8},{"s":"AC + MWCNT","t":41.6,"c":5},{"s":"AC + MWCNT","t":42.1,"c":5},{"s":"AC + MWCNT","t":42.6,"c":8},{"s":"AC + MWCNT","t":43.1,"c":6},{"s":"AC + MWCNT","t":43.6,"c":7},{"s":"AC + MWCNT","t":44.1,"c":6},{"s":"AC + MWCNT","t":44.6,"c":6},{"s":"AC + MWCNT","t":45.1,"c":6},{"s":"AC + MWCNT","t":45.6,"c":5},{"s":"AC + MWCNT","t":46.1,"c":6},{"s":"AC + MWCNT","t":46.6,"c":5},{"s":"AC + MWCNT","t":47.1,"c":5},{"s":"AC + MWCNT","t":47.6,"c":6},{"s":"AC + MWCNT","t":48.1,"c":5},{"s":"AC + MWCNT","t":48.6,"c":5},{"s":"AC + MWCNT","t":49.1,"c":5},{"s":"AC + MWCNT","t":49.6,"c":6},
{"s":"AC + MWCNT","t":35.5,"c":3},{"s":"AC + MWCNT","t":36.0,"c":3},{"s":"AC + MWCNT","t":36.5,"c":3},{"s":"AC + MWCNT","t":37.0,"c":3},{"s":"AC + MWCNT","t":37.5,"c":3},{"s":"AC + MWCNT","t":38.0,"c":3},{"s":"AC + MWCNT","t":38.5,"c":3},{"s":"AC + MWCNT","t":39.0,"c":3},{"s":"AC + MWCNT","t":39.5,"c":3},{"s":"AC + MWCNT","t":40.0,"c":3},{"s":"AC + MWCNT","t":40.5,"c":3},{"s":"AC + MWCNT","t":41.0,"c":3},{"s":"AC + MWCNT","t":41.5,"c":3},{"s":"AC + MWCNT","t":42.0,"c":3},{"s":"AC + MWCNT","t":42.5,"c":3},{"s":"AC + MWCNT","t":43.0,"c":3},{"s":"AC + MWCNT","t":43.5,"c":3},{"s":"AC + MWCNT","t":44.0,"c":3},{"s":"AC + MWCNT","t":44.5,"c":3},{"s":"AC + MWCNT","t":45.0,"c":3},{"s":"AC + MWCNT","t":45.5,"c":3},{"s":"AC + MWCNT","t":46.0,"c":3},{"s":"AC + MWCNT","t":46.5,"c":3},{"s":"AC + MWCNT","t":47.0,"c":3},{"s":"AC + MWCNT","t":48.0,"c":3},{"s":"AC + MWCNT","t":49.0,"c":3},{"s":"AC + MWCNT","t":49.7,"c":3},
{"s":"AC + MWCNT","t":36.5,"c":2},{"s":"AC + MWCNT","t":37.0,"c":2},{"s":"AC + MWCNT","t":37.5,"c":2},{"s":"AC + MWCNT","t":38.0,"c":2},{"s":"AC + MWCNT","t":38.5,"c":2},{"s":"AC + MWCNT","t":39.0,"c":2},{"s":"AC + MWCNT","t":39.5,"c":2},{"s":"AC + MWCNT","t":40.0,"c":2},{"s":"AC + MWCNT","t":40.5,"c":2},{"s":"AC + MWCNT","t":41.0,"c":2},{"s":"AC + MWCNT","t":41.5,"c":2},{"s":"AC + MWCNT","t":42.0,"c":2},{"s":"AC + MWCNT","t":42.5,"c":2},{"s":"AC + MWCNT","t":43.0,"c":2},{"s":"AC + MWCNT","t":43.5,"c":2},{"s":"AC + MWCNT","t":44.0,"c":2},{"s":"AC + MWCNT","t":44.5,"c":2},{"s":"AC + MWCNT","t":45.0,"c":2},{"s":"AC + MWCNT","t":45.5,"c":2},{"s":"AC + MWCNT","t":46.0,"c":2},{"s":"AC + MWCNT","t":46.5,"c":2},{"s":"AC + MWCNT","t":47.0,"c":2},{"s":"AC + MWCNT","t":47.5,"c":2},{"s":"AC + MWCNT","t":48.0,"c":2},{"s":"AC + MWCNT","t":48.5,"c":2},{"s":"AC + MWCNT","t":49.0,"c":2},{"s":"AC + MWCNT","t":49.5,"c":2},{"s":"AC + MWCNT","t":50.0,"c":2},
{"s":"AC + MWCNT","t":36.0,"c":1},{"s":"AC + MWCNT","t":36.5,"c":1},{"s":"AC + MWCNT","t":37.0,"c":1},{"s":"AC + MWCNT","t":37.5,"c":1},{"s":"AC + MWCNT","t":38.0,"c":1},{"s":"AC + MWCNT","t":38.5,"c":1},{"s":"AC + MWCNT","t":39.0,"c":1},{"s":"AC + MWCNT","t":39.5,"c":1},{"s":"AC + MWCNT","t":40.0,"c":1},{"s":"AC + MWCNT","t":40.5,"c":1},{"s":"AC + MWCNT","t":41.0,"c":1},{"s":"AC + MWCNT","t":41.5,"c":1},{"s":"AC + MWCNT","t":42.0,"c":1},{"s":"AC + MWCNT","t":42.5,"c":1},{"s":"AC + MWCNT","t":43.0,"c":1},{"s":"AC + MWCNT","t":43.5,"c":1},{"s":"AC + MWCNT","t":44.0,"c":1},{"s":"AC + MWCNT","t":44.5,"c":1},{"s":"AC + MWCNT","t":45.0,"c":1},{"s":"AC + MWCNT","t":45.5,"c":1},{"s":"AC + MWCNT","t":46.0,"c":1},{"s":"AC + MWCNT","t":46.5,"c":1},{"s":"AC + MWCNT","t":47.0,"c":1},{"s":"AC + MWCNT","t":47.5,"c":1},{"s":"AC + MWCNT","t":48.0,"c":1},{"s":"AC + MWCNT","t":48.5,"c":1},{"s":"AC + MWCNT","t":49.0,"c":1},{"s":"AC + MWCNT","t":49.5,"c":1},{"s":"AC + MWCNT","t":50.0,"c":1}
],
"i": [
{"s":"IRF","t":30.2,"c":3},{"s":"IRF","t":30.3,"c":20},{"s":"IRF","t":30.4,"c":150},{"s":"IRF","t":30.5,"c":700},{"s":"IRF","t":30.6,"c":2000},{"s":"IRF","t":30.7,"c":3000},{"s":"IRF","t":30.8,"c":1500},{"s":"IRF","t":30.9,"c":500},{"s":"IRF","t":31.0,"c":200},{"s":"IRF","t":31.1,"c":120},{"s":"IRF","t":31.2,"c":80},{"s":"IRF","t":31.3,"c":60},{"s":"IRF","t":31.4,"c":45},{"s":"IRF","t":31.5,"c":35},{"s":"IRF","t":31.6,"c":50},{"s":"IRF","t":31.7,"c":40},{"s":"IRF","t":31.8,"c":30},{"s":"IRF","t":31.9,"c":45},{"s":"IRF","t":32.0,"c":35},{"s":"IRF","t":32.1,"c":25},{"s":"IRF","t":32.2,"c":20},{"s":"IRF","t":32.3,"c":15},{"s":"IRF","t":32.4,"c":12},{"s":"IRF","t":32.5,"c":10},{"s":"IRF","t":32.6,"c":8},{"s":"IRF","t":32.7,"c":6},{"s":"IRF","t":32.8,"c":5},{"s":"IRF","t":32.9,"c":4},{"s":"IRF","t":33.0,"c":3},{"s":"IRF","t":33.2,"c":2},{"s":"IRF","t":33.5,"c":2},{"s":"IRF","t":31.5,"c":150},{"s":"IRF","t":32.0,"c":60},{"s":"IRF","t":32.5,"c":30},{"s":"IRF","t":32.9,"c":1},{"s":"IRF","t":33.3,"c":1},{"s":"IRF","t":33.7,"c":1},{"s":"IRF","t":34.1,"c":1},{"s":"IRF","t":34.5,"c":1},{"s":"IRF","t":34.9,"c":1},{"s":"IRF","t":35.5,"c":1},{"s":"IRF","t":36.1,"c":1},{"s":"IRF","t":36.7,"c":1},{"s":"IRF","t":37.3,"c":1},{"s":"IRF","t":41.4,"c":1},{"s":"IRF","t":44.9,"c":1},{"s":"IRF","t":47.8,"c":1},{"s":"IRF","t":53.7,"c":1},{"s":"IRF","t":57.8,"c":1},{"s":"IRF","t":64.8,"c":1},{"s":"IRF","t":71.8,"c":1},{"s":"IRF","t":73.6,"c":1},{"s":"IRF","t":76.5,"c":1},{"s":"IRF","t":77.6,"c":1},{"s":"IRF","t":78.7,"c":1},{"s":"IRF","t":79.8,"c":1},{"s":"IRF","t":80.6,"c":2},{"s":"IRF","t":83,"c":1},{"s":"IRF","t":86.5,"c":1},{"s":"IRF","t":89.4,"c":1},{"s":"IRF","t":93.5,"c":1},
{"s":"AA","t":30.0,"c":5},{"s":"AA","t":30.05,"c":15},{"s":"AA","t":30.1,"c":40},{"s":"AA","t":30.2,"c":150},{"s":"AA","t":30.3,"c":500},{"s":"AA","t":30.4,"c":1200},{"s":"AA","t":30.5,"c":2200},{"s":"AA","t":30.6,"c":3000},{"s":"AA","t":30.7,"c":3700},{"s":"AA","t":30.8,"c":4100},{"s":"AA","t":30.9,"c":4400},
{"s":"AA","t":31,"c":4500},{"s":"AA","t":32,"c":3972},{"s":"AA","t":33,"c":3505},{"s":"AA","t":34,"c":3094},{"s":"AA","t":35,"c":2731},{"s":"AA","t":36,"c":2410},{"s":"AA","t":37,"c":2127},{"s":"AA","t":38,"c":1877},{"s":"AA","t":39,"c":1657},{"s":"AA","t":40,"c":1462},{"s":"AA","t":41,"c":1291},{"s":"AA","t":42,"c":1139},{"s":"AA","t":43,"c":1005},{"s":"AA","t":44,"c":887},{"s":"AA","t":45,"c":783},{"s":"AA","t":46,"c":691},{"s":"AA","t":47,"c":610},{"s":"AA","t":48,"c":538},{"s":"AA","t":49,"c":475},{"s":"AA","t":50,"c":419},{"s":"AA","t":51,"c":370},{"s":"AA","t":52,"c":327},{"s":"AA","t":53,"c":288},{"s":"AA","t":54,"c":254},{"s":"AA","t":55,"c":224},{"s":"AA","t":56,"c":198},{"s":"AA","t":57,"c":175},{"s":"AA","t":58,"c":154},{"s":"AA","t":59,"c":136},{"s":"AA","t":60,"c":120},{"s":"AA","t":61,"c":106},{"s":"AA","t":62,"c":94},{"s":"AA","t":63,"c":83},{"s":"AA","t":64,"c":73},{"s":"AA","t":65,"c":64},{"s":"AA","t":66,"c":57},{"s":"AA","t":67,"c":50},{"s":"AA","t":68,"c":44},{"s":"AA","t":69,"c":39},{"s":"AA","t":70,"c":34},{"s":"AA","t":71,"c":30},{"s":"AA","t":72,"c":27},{"s":"AA","t":73,"c":24},{"s":"AA","t":74,"c":21},{"s":"AA","t":75,"c":18},{"s":"AA","t":76,"c":16},{"s":"AA","t":77,"c":14},{"s":"AA","t":78,"c":13},{"s":"AA","t":79,"c":11},{"s":"AA","t":80,"c":10},{"s":"AA","t":81,"c":9},{"s":"AA","t":82,"c":8},{"s":"AA","t":83,"c":7},{"s":"AA","t":84,"c":6},
{"s":"AA","t":78.5,"c":9},{"s":"AA","t":79.5,"c":8},{"s":"AA","t":80.5,"c":6},{"s":"AA","t":81,"c":5},{"s":"AA","t":81.5,"c":4},{"s":"AA","t":82,"c":5},{"s":"AA","t":82.5,"c":4},{"s":"AA","t":83,"c":3},{"s":"AA","t":84,"c":3},{"s":"AA","t":85,"c":2},{"s":"AA","t":85.5,"c":2},{"s":"AA","t":84.5,"c":1},{"s":"AA","t":89,"c":1},
{"s":"AA + MWCNT","t":30.0,"c":1},{"s":"AA + MWCNT","t":30.01,"c":3},{"s":"AA + MWCNT","t":30.05,"c":8},{"s":"AA + MWCNT","t":30.1,"c":20},{"s":"AA + MWCNT","t":30.2,"c":60},{"s":"AA + MWCNT","t":30.3,"c":250},{"s":"AA + MWCNT","t":30.4,"c":900},{"s":"AA + MWCNT","t":30.5,"c":2200},{"s":"AA + MWCNT","t":30.6,"c":3500},{"s":"AA + MWCNT","t":30.7,"c":4300},{"s":"AA + MWCNT","t":30.8,"c":4800},{"s":"AA + MWCNT","t":30.9,"c":5000},
{"s":"AA + MWCNT","t":31,"c":5000},{"s":"AA + MWCNT","t":32,"c":4440},{"s":"AA + MWCNT","t":33,"c":3950},{"s":"AA + MWCNT","t":34,"c":3510},{"s":"AA + MWCNT","t":35,"c":3120},{"s":"AA + MWCNT","t":36,"c":2770},{"s":"AA + MWCNT","t":37,"c":2460},{"s":"AA + MWCNT","t":38,"c":2190},{"s":"AA + MWCNT","t":39,"c":1950},{"s":"AA + MWCNT","t":40,"c":1730},{"s":"AA + MWCNT","t":41,"c":1540},{"s":"AA + MWCNT","t":42,"c":1370},{"s":"AA + MWCNT","t":43,"c":1215},{"s":"AA + MWCNT","t":44,"c":1080},{"s":"AA + MWCNT","t":45,"c":960},{"s":"AA + MWCNT","t":46,"c":853},{"s":"AA + MWCNT","t":47,"c":758},{"s":"AA + MWCNT","t":48,"c":674},{"s":"AA + MWCNT","t":49,"c":599},{"s":"AA + MWCNT","t":50,"c":532},{"s":"AA + MWCNT","t":51,"c":473},{"s":"AA + MWCNT","t":52,"c":420},{"s":"AA + MWCNT","t":53,"c":374},{"s":"AA + MWCNT","t":54,"c":332},{"s":"AA + MWCNT","t":55,"c":295},{"s":"AA + MWCNT","t":56,"c":262},{"s":"AA + MWCNT","t":57,"c":233},{"s":"AA + MWCNT","t":58,"c":207},{"s":"AA + MWCNT","t":59,"c":184},{"s":"AA + MWCNT","t":60,"c":164},{"s":"AA + MWCNT","t":61,"c":146},{"s":"AA + MWCNT","t":62,"c":129},{"s":"AA + MWCNT","t":63,"c":115},{"s":"AA + MWCNT","t":64,"c":102},{"s":"AA + MWCNT","t":65,"c":91},{"s":"AA + MWCNT","t":66,"c":81},{"s":"AA + MWCNT","t":67,"c":72},{"s":"AA + MWCNT","t":68,"c":64},{"s":"AA + MWCNT","t":69,"c":57},{"s":"AA + MWCNT","t":70,"c":50},{"s":"AA + MWCNT","t":71,"c":45},{"s":"AA + MWCNT","t":72,"c":40},{"s":"AA + MWCNT","t":73,"c":35},{"s":"AA + MWCNT","t":74,"c":31},{"s":"AA + MWCNT","t":75,"c":28},{"s":"AA + MWCNT","t":76,"c":25},{"s":"AA + MWCNT","t":77,"c":22},{"s":"AA + MWCNT","t":78,"c":20},{"s":"AA + MWCNT","t":79,"c":17},{"s":"AA + MWCNT","t":80,"c":16},{"s":"AA + MWCNT","t":81,"c":14},{"s":"AA + MWCNT","t":82,"c":12},{"s":"AA + MWCNT","t":83,"c":11},{"s":"AA + MWCNT","t":84,"c":10},
{"s":"AA + MWCNT","t":60.5,"c":108},{"s":"AA + MWCNT","t":62.5,"c":86},{"s":"AA + MWCNT","t":64.5,"c":68},{"s":"AA + MWCNT","t":66.5,"c":54},{"s":"AA + MWCNT","t":68.5,"c":42},{"s":"AA + MWCNT","t":70.5,"c":33},{"s":"AA + MWCNT","t":72.5,"c":26},{"s":"AA + MWCNT","t":74.5,"c":21},{"s":"AA + MWCNT","t":76.5,"c":16},{"s":"AA + MWCNT","t":78.5,"c":13},{"s":"AA + MWCNT","t":80.5,"c":10},{"s":"AA + MWCNT","t":82.5,"c":8},
{"s":"AA + MWCNT","t":61.5,"c":180},{"s":"AA + MWCNT","t":63.5,"c":143},{"s":"AA + MWCNT","t":65.5,"c":113},{"s":"AA + MWCNT","t":67.5,"c":90},{"s":"AA + MWCNT","t":69.5,"c":71},{"s":"AA + MWCNT","t":71.5,"c":56},{"s":"AA + MWCNT","t":73.5,"c":45},{"s":"AA + MWCNT","t":75.5,"c":35},{"s":"AA + MWCNT","t":77.5,"c":28},{"s":"AA + MWCNT","t":79.5,"c":22},{"s":"AA + MWCNT","t":81.5,"c":17},{"s":"AA + MWCNT","t":83.5,"c":14},
{"s":"AA + MWCNT","t":85,"c":10},{"s":"AA + MWCNT","t":86,"c":8},{"s":"AA + MWCNT","t":87,"c":11},{"s":"AA + MWCNT","t":88,"c":9},{"s":"AA + MWCNT","t":89,"c":8},{"s":"AA + MWCNT","t":90,"c":10},{"s":"AA + MWCNT","t":91,"c":7},{"s":"AA + MWCNT","t":92,"c":9},{"s":"AA + MWCNT","t":93,"c":8},{"s":"AA + MWCNT","t":94,"c":7},{"s":"AA + MWCNT","t":95,"c":10},{"s":"AA + MWCNT","t":95.9,"c":12},{"s":"AA + MWCNT","t":97,"c":8},{"s":"AA + MWCNT","t":98,"c":7},{"s":"AA + MWCNT","t":99,"c":9},{"s":"AA + MWCNT","t":100,"c":8},
{"s":"AA + MWCNT","t":80,"c":6},{"s":"AA + MWCNT","t":81.5,"c":6},{"s":"AA + MWCNT","t":83,"c":6},{"s":"AA + MWCNT","t":84.5,"c":6},{"s":"AA + MWCNT","t":86,"c":6},{"s":"AA + MWCNT","t":87.5,"c":6},{"s":"AA + MWCNT","t":89,"c":6},{"s":"AA + MWCNT","t":90.5,"c":6},{"s":"AA + MWCNT","t":92,"c":6},{"s":"AA + MWCNT","t":93.5,"c":6},{"s":"AA + MWCNT","t":95,"c":6},{"s":"AA + MWCNT","t":96.5,"c":6},{"s":"AA + MWCNT","t":98,"c":6},{"s":"AA + MWCNT","t":99.5,"c":6},
{"s":"AA + MWCNT","t":80.7,"c":5},{"s":"AA + MWCNT","t":82.2,"c":5},{"s":"AA + MWCNT","t":83.7,"c":5},{"s":"AA + MWCNT","t":85.2,"c":5},{"s":"AA + MWCNT","t":86.7,"c":5},{"s":"AA + MWCNT","t":88.2,"c":5},{"s":"AA + MWCNT","t":89.7,"c":5},{"s":"AA + MWCNT","t":91.2,"c":5},{"s":"AA + MWCNT","t":92.7,"c":5},{"s":"AA + MWCNT","t":94.2,"c":5},{"s":"AA + MWCNT","t":95.7,"c":5},{"s":"AA + MWCNT","t":97.2,"c":5},{"s":"AA + MWCNT","t":98.7,"c":5},{"s":"AA + MWCNT","t":100,"c":5},
{"s":"AA + MWCNT","t":81,"c":4},{"s":"AA + MWCNT","t":82.5,"c":4},{"s":"AA + MWCNT","t":84,"c":4},{"s":"AA + MWCNT","t":85.5,"c":4},{"s":"AA + MWCNT","t":87,"c":4},{"s":"AA + MWCNT","t":88.5,"c":4},{"s":"AA + MWCNT","t":90,"c":4},{"s":"AA + MWCNT","t":91.5,"c":4},{"s":"AA + MWCNT","t":93,"c":4},{"s":"AA + MWCNT","t":94.5,"c":4},{"s":"AA + MWCNT","t":96,"c":4},{"s":"AA + MWCNT","t":97.5,"c":4},{"s":"AA + MWCNT","t":99,"c":4},{"s":"AA + MWCNT","t":100,"c":4},
{"s":"AA + MWCNT","t":82,"c":3},{"s":"AA + MWCNT","t":83.5,"c":3},{"s":"AA + MWCNT","t":85,"c":3},{"s":"AA + MWCNT","t":86.5,"c":3},{"s":"AA + MWCNT","t":88,"c":3},{"s":"AA + MWCNT","t":89.5,"c":3},{"s":"AA + MWCNT","t":91,"c":3},{"s":"AA + MWCNT","t":92.5,"c":3},{"s":"AA + MWCNT","t":94,"c":3},{"s":"AA + MWCNT","t":95.5,"c":3},{"s":"AA + MWCNT","t":97,"c":3},{"s":"AA + MWCNT","t":98.5,"c":3},{"s":"AA + MWCNT","t":100,"c":3},
{"s":"AA + MWCNT","t":85,"c":2},{"s":"AA + MWCNT","t":86.5,"c":2},{"s":"AA + MWCNT","t":88,"c":2},{"s":"AA + MWCNT","t":89.5,"c":2},{"s":"AA + MWCNT","t":91,"c":2},{"s":"AA + MWCNT","t":92.5,"c":2},{"s":"AA + MWCNT","t":94,"c":2},{"s":"AA + MWCNT","t":95.5,"c":2},{"s":"AA + MWCNT","t":97,"c":2},{"s":"AA + MWCNT","t":98.5,"c":2},{"s":"AA + MWCNT","t":100,"c":2},
{"s":"AA + MWCNT","t":82,"c":1},{"s":"AA + MWCNT","t":83.5,"c":1},{"s":"AA + MWCNT","t":85,"c":1},{"s":"AA + MWCNT","t":86.5,"c":1},{"s":"AA + MWCNT","t":88,"c":1},{"s":"AA + MWCNT","t":89.5,"c":1},{"s":"AA + MWCNT","t":91,"c":1},{"s":"AA + MWCNT","t":92.5,"c":1},{"s":"AA + MWCNT","t":94,"c":1},{"s":"AA + MWCNT","t":95.5,"c":1},{"s":"AA + MWCNT","t":97,"c":1},{"s":"AA + MWCNT","t":98.5,"c":1},{"s":"AA + MWCNT","t":100,"c":1}
]
},
"spacing": 13,
"resolve": {"scale": {"color": "independent", "x": "independent", "y": "independent"}, "legend": {"color": "independent"}},
"vconcat": [
{
 "hconcat": [
  {"width": 31, "height": 10, "data": {"values": [{"k": ""}]}, "mark": {"type": "text"}, "encoding": {"text": {"field": "k"}}, "view": {"stroke": null, "fill": "#ffffff"}},
  {
   "hconcat": [
    {"width": 206, "height": 218,
     "resolve": {"axis": {"x": "independent"}},
     "encoding": {"x": {"field": "x", "type": "quantitative", "scale": {"domain": [200, 500], "nice": false}, "axis": {"orient": "bottom", "values": [200, 300, 400, 500], "title": "Wavelength (nm)"}},
                  "y": {"field": "y", "type": "quantitative", "scale": {"domain": [0, 1], "nice": false}, "axis": {"title": "Absorbance (a.u)", "labels": false, "ticks": false, "titlePadding": 20}}},
     "layer": [
      {"data": {"name": "a"}, "mark": {"type": "line", "strokeWidth": 1.8, "interpolate": "monotone"},
       "encoding": {"color": {"field": "s", "type": "nominal", "scale": {"domain": ["A", "A + MWCNT"], "range": ["#000000", "#e8202a"]}, "legend": {"legendX": 93, "legendY": 30, "symbolType": "M-2,0L2,0", "symbolSize": 156, "symbolStrokeWidth": 2, "labelOffset": 7}}}},
      {"data": {"values": [{"x": 459, "y": 0.876, "k": "(a)"}]}, "mark": {"type": "text", "font": "Liberation Serif", "fontWeight": "bold", "fontSize": 19, "align": "center", "baseline": "middle"},
       "encoding": {"text": {"field": "k"}, "x": {"field": "x", "type": "quantitative", "axis": {"orient": "bottom", "values": [250, 350, 450], "labels": false, "title": null, "domain": false, "tickSize": 2.5}}}}
     ]},
    {"width": 206, "height": 218,
     "resolve": {"axis": {"x": "independent"}},
     "encoding": {"x": {"field": "x", "type": "quantitative", "scale": {"domain": [200, 500], "nice": false}, "axis": {"orient": "bottom", "values": [200, 300, 400, 500], "title": "Wavelength (nm)"}},
                  "y": {"field": "y", "type": "quantitative", "scale": {"domain": [0, 1], "nice": false}, "axis": {"title": "Absorbance (a.u)", "labels": false, "ticks": false, "titlePadding": 20}}},
     "layer": [
      {"data": {"name": "b"}, "mark": {"type": "line", "strokeWidth": 1.8, "interpolate": "monotone"},
       "encoding": {"color": {"field": "s", "type": "nominal", "scale": {"domain": ["AC", "AC + MWCNT"], "range": ["#000000", "#e8202a"]}, "legend": {"legendX": 89, "legendY": 30, "symbolType": "M-2,0L2,0", "symbolSize": 156, "symbolStrokeWidth": 2, "labelOffset": 7}}}},
      {"data": {"values": [{"x": 463.6, "y": 0.876, "k": "(b)"}]}, "mark": {"type": "text", "font": "Liberation Serif", "fontWeight": "bold", "fontSize": 19, "align": "center", "baseline": "middle"},
       "encoding": {"text": {"field": "k"}, "x": {"field": "x", "type": "quantitative", "axis": {"orient": "bottom", "values": [250, 350, 450], "labels": false, "title": null, "domain": false, "tickSize": 2.5}}}}
     ]},
    {"width": 206, "height": 218,
     "resolve": {"axis": {"x": "independent"}},
     "encoding": {"x": {"field": "x", "type": "quantitative", "scale": {"domain": [200, 500], "nice": false}, "axis": {"orient": "bottom", "values": [200, 300, 400, 500], "title": "Wavelength (nm)"}},
                  "y": {"field": "y", "type": "quantitative", "scale": {"domain": [0, 1], "nice": false}, "axis": {"title": "Absorbance (a.u)", "labels": false, "ticks": false, "titlePadding": 20}}},
     "layer": [
      {"data": {"name": "c"}, "mark": {"type": "line", "strokeWidth": 1.8, "interpolate": "monotone"},
       "encoding": {"color": {"field": "s", "type": "nominal", "scale": {"domain": ["AA", "AA + MWCNT"], "range": ["#000000", "#e8202a"]}, "legend": {"legendX": 93, "legendY": 21, "symbolType": "M-2,0L2,0", "symbolSize": 156, "symbolStrokeWidth": 2, "labelOffset": 7}}}},
      {"data": {"values": [{"x": 457.8, "y": 0.885, "k": "(c)"}]}, "mark": {"type": "text", "font": "Liberation Serif", "fontWeight": "bold", "fontSize": 19, "align": "center", "baseline": "middle"},
       "encoding": {"text": {"field": "k"}, "x": {"field": "x", "type": "quantitative", "axis": {"orient": "bottom", "values": [250, 350, 450], "labels": false, "title": null, "domain": false, "tickSize": 2.5}}}}
     ]}
   ],
   "spacing": 45, "bounds": "flush",
   "resolve": {"scale": {"color": "independent", "x": "independent", "y": "independent"}, "legend": {"color": "independent"}}
  }
 ],
 "spacing": 0, "bounds": "flush",
 "resolve": {"scale": {"color": "independent", "x": "independent", "y": "independent"}, "legend": {"color": "independent"}}
},
{
 "hconcat": [
  {"width": 34, "height": 10, "data": {"values": [{"k": ""}]}, "mark": {"type": "text"}, "encoding": {"text": {"field": "k"}}, "view": {"stroke": null, "fill": "#ffffff"}},
  {
   "hconcat": [
    {"width": 208, "height": 218,
     "resolve": {"axis": {"x": "independent"}},
     "encoding": {"x": {"field": "x", "type": "quantitative", "scale": {"domain": [370, 500], "nice": false}, "axis": {"orient": "bottom", "values": [375, 400, 425, 450, 475, 500], "title": "Wavelength (nm)"}},
                  "y": {"field": "y", "type": "quantitative", "scale": {"domain": [0, 1], "nice": false}, "axis": {"title": "Fluorescence Intensity (a.u)", "labels": false, "ticks": false, "titlePadding": 20}}},
     "layer": [
      {"data": {"name": "d"}, "mark": {"type": "line", "strokeWidth": 1.8, "interpolate": "monotone"},
       "encoding": {"color": {"field": "s", "type": "nominal", "scale": {"domain": ["A", "A + MWCNT"], "range": ["#000000", "#e8202a"]}, "legend": {"legendX": 117, "legendY": 21, "symbolType": "M-2,0L2,0", "symbolSize": 156, "symbolStrokeWidth": 2, "labelOffset": 7, "rowPadding": 3}}}},
      {"data": {"values": [{"x": 383, "y": 0.917, "k": "(d)"}]}, "mark": {"type": "text", "font": "Liberation Serif", "fontWeight": "bold", "fontSize": 19, "align": "center", "baseline": "middle"},
       "encoding": {"text": {"field": "k"}, "x": {"field": "x", "type": "quantitative", "axis": {"orient": "bottom", "values": [387.5, 412.5, 437.5, 462.5, 487.5], "labels": false, "title": null, "domain": false, "tickSize": 2.5}}}}
     ]},
    {"width": 207, "height": 218,
     "resolve": {"axis": {"x": "independent"}},
     "encoding": {"x": {"field": "x", "type": "quantitative", "scale": {"domain": [370, 700], "nice": false}, "axis": {"orient": "bottom", "values": [400, 450, 500, 550, 600, 650, 700], "title": "Wavelength (nm)"}},
                  "y": {"field": "y", "type": "quantitative", "scale": {"domain": [0, 1], "nice": false}, "axis": {"title": "Fluorescence intensity (a.u)", "labels": false, "ticks": false, "titlePadding": 20}}},
     "layer": [
      {"data": {"name": "e"}, "mark": {"type": "line", "strokeWidth": 1.8, "interpolate": "monotone"},
       "encoding": {"color": {"field": "s", "type": "nominal", "scale": {"domain": ["AC", "AC + MWCNT"], "range": ["#000000", "#e8202a"]}, "legend": {"legendX": 107, "legendY": 21, "symbolType": "M-2,0L2,0", "symbolSize": 156, "symbolStrokeWidth": 2, "labelOffset": 7}}}},
      {"data": {"values": [{"x": 406.5, "y": 0.94, "k": "(e)"}]}, "mark": {"type": "text", "font": "Liberation Serif", "fontWeight": "bold", "fontSize": 19, "align": "center", "baseline": "middle"},
       "encoding": {"text": {"field": "k"}, "x": {"field": "x", "type": "quantitative", "axis": {"orient": "bottom", "values": [375, 425, 475, 525, 575, 625, 675], "labels": false, "title": null, "domain": false, "tickSize": 2.5}}}}
     ]},
    {"width": 209, "height": 218,
     "resolve": {"axis": {"x": "independent"}},
     "encoding": {"x": {"field": "x", "type": "quantitative", "scale": {"domain": [370, 700], "nice": false}, "axis": {"orient": "bottom", "values": [400, 450, 500, 550, 600, 650, 700], "title": "Wavelength (nm)"}},
                  "y": {"field": "y", "type": "quantitative", "scale": {"domain": [0, 1], "nice": false}, "axis": {"title": "Fluorescence intensity (a.u)", "labels": false, "ticks": false, "titlePadding": 20}}},
     "layer": [
      {"data": {"name": "f"}, "mark": {"type": "line", "strokeWidth": 1.8, "interpolate": "monotone"},
       "encoding": {"color": {"field": "s", "type": "nominal", "scale": {"domain": ["AA", "AA + MWCNT"], "range": ["#000000", "#e8202a"]}, "legend": {"legendX": 111, "legendY": 12, "symbolType": "M-2,0L2,0", "symbolSize": 156, "symbolStrokeWidth": 2, "labelOffset": 7}}}},
      {"data": {"values": [{"x": 403.5, "y": 0.94, "k": "(f)"}]}, "mark": {"type": "text", "font": "Liberation Serif", "fontWeight": "bold", "fontSize": 19, "align": "center", "baseline": "middle"},
       "encoding": {"text": {"field": "k"}, "x": {"field": "x", "type": "quantitative", "axis": {"orient": "bottom", "values": [375, 425, 475, 525, 575, 625, 675], "labels": false, "title": null, "domain": false, "tickSize": 2.5}}}}
     ]}
   ],
   "spacing": 41, "bounds": "flush",
   "resolve": {"scale": {"color": "independent", "x": "independent", "y": "independent"}, "legend": {"color": "independent"}}
  }
 ],
 "spacing": 0, "bounds": "flush",
 "resolve": {"scale": {"color": "independent", "x": "independent", "y": "independent"}, "legend": {"color": "independent"}}
},
{
 "hconcat": [
  {"width": 43, "height": 10, "data": {"values": [{"k": ""}]}, "mark": {"type": "text"}, "encoding": {"text": {"field": "k"}}, "view": {"stroke": null, "fill": "#ffffff"}},
  {
   "hconcat": [
    {"width": 202, "height": 210,
     "resolve": {"axis": {"x": "independent"}},
     "encoding": {"x": {"field": "t", "type": "quantitative", "scale": {"domain": [30, 75], "nice": false}, "axis": {"orient": "bottom", "values": [30, 40, 50, 60, 70], "title": "Time (ns)", "titlePadding": 7}},
                  "y": {"field": "c", "type": "quantitative", "scale": {"type": "log", "domain": [1, 10000], "nice": false}, "axis": {"values": [1, 10, 100, 1000, 10000], "title": "Intensity (counts)", "tickSize": 3, "labelFontSize": 9, "titlePadding": 17, "labelExpr": "datum.value == 1 ? '10⁰' : datum.value == 10 ? '10¹' : datum.value == 100 ? '10²' : datum.value == 1000 ? '10³' : '10⁴'"}}},
     "layer": [
      {"data": {"name": "g"}, "mark": {"type": "point", "filled": true, "size": 48, "opacity": 1, "stroke": "#ffffff", "strokeWidth": 0.4, "clip": false},
       "encoding": {"color": {"field": "s", "type": "nominal", "scale": {"domain": ["IRF", "A", "A + MWCNT"], "range": ["#2b2b2b", "#e3353b", "#4a63e6"]}, "legend": {"legendX": 92, "legendY": 25, "symbolType": "circle", "symbolSize": 45, "labelOffset": 8, "rowPadding": -2}}}},
      {"data": {"values": [{"t": 44.9, "c": 3800, "k": "(g)"}]}, "mark": {"type": "text", "font": "Liberation Serif", "fontWeight": "bold", "fontSize": 19, "align": "center", "baseline": "middle"},
       "encoding": {"text": {"field": "k"}, "x": {"field": "t", "type": "quantitative", "axis": {"orient": "bottom", "values": [35, 45, 55, 65, 75], "labels": false, "title": null, "domain": false, "tickSize": 2.5}}}},
      {"data": {"values": [{"t": 52.9, "c": 373, "k": "τ"}, {"t": 52.9, "c": 142, "k": "τ"}]}, "mark": {"type": "text", "fontSize": 12, "fontWeight": "bold", "align": "left", "baseline": "middle"}, "encoding": {"text": {"field": "k"}}},
      {"data": {"values": [{"t": 54.35, "c": 373, "k": "A"}, {"t": 54.35, "c": 142, "k": "A + MWCNT"}]}, "mark": {"type": "text", "fontSize": 8, "fontWeight": "bold", "align": "left", "baseline": "middle", "dy": 4}, "encoding": {"text": {"field": "k"}}},
      {"data": {"values": [{"t": 56.3, "c": 373, "k": "= 4.11 ns"}, {"t": 65.4, "c": 142, "k": "= 4.15 ns"}]}, "mark": {"type": "text", "fontSize": 10, "fontWeight": "bold", "align": "left", "baseline": "middle"}, "encoding": {"text": {"field": "k"}}}
     ]},
    {"width": 196, "height": 210,
     "resolve": {"axis": {"x": "independent"}},
     "encoding": {"x": {"field": "t", "type": "quantitative", "scale": {"domain": [30, 50], "nice": false}, "axis": {"orient": "bottom", "values": [30, 40, 50], "title": "Time (ns)", "titlePadding": 7}},
                  "y": {"field": "c", "type": "quantitative", "scale": {"type": "log", "domain": [1, 10000], "nice": false}, "axis": {"values": [1, 10, 100, 1000, 10000], "title": "Intensity (counts)", "tickSize": 3, "labelFontSize": 9, "titlePadding": 17, "labelExpr": "datum.value == 1 ? '10⁰' : datum.value == 10 ? '10¹' : datum.value == 100 ? '10²' : datum.value == 1000 ? '10³' : '10⁴'"}}},
     "layer": [
      {"data": {"name": "h"}, "mark": {"type": "point", "filled": true, "size": 48, "opacity": 1, "stroke": "#ffffff", "strokeWidth": 0.4, "clip": false},
       "encoding": {"color": {"field": "s", "type": "nominal", "scale": {"domain": ["IRF", "AC", "AC + MWCNT"], "range": ["#2b2b2b", "#e3353b", "#4a63e6"]}, "legend": {"legendX": 90, "legendY": 25, "symbolType": "circle", "symbolSize": 45, "labelOffset": 8, "rowPadding": -2}}}},
      {"data": {"values": [{"t": 36.6, "c": 4170, "k": "(h)"}]}, "mark": {"type": "text", "font": "Liberation Serif", "fontWeight": "bold", "fontSize": 19, "align": "center", "baseline": "middle"},
       "encoding": {"text": {"field": "k"}, "x": {"field": "t", "type": "quantitative", "axis": {"orient": "bottom", "values": [35, 45], "labels": false, "title": null, "domain": false, "tickSize": 2.5}}}},
      {"data": {"values": [{"t": 37.3, "c": 240, "k": "τ"}, {"t": 37.3, "c": 100, "k": "τ"}]}, "mark": {"type": "text", "fontSize": 12, "fontWeight": "bold", "align": "left", "baseline": "middle"}, "encoding": {"text": {"field": "k"}}},
      {"data": {"values": [{"t": 37.96, "c": 240, "k": "AC"}, {"t": 37.96, "c": 100, "k": "AC + MWCNT"}]}, "mark": {"type": "text", "fontSize": 8, "fontWeight": "bold", "align": "left", "baseline": "middle", "dy": 4}, "encoding": {"text": {"field": "k"}}},
      {"data": {"values": [{"t": 39.3, "c": 240, "k": "= 0.182 ns"}, {"t": 43.6, "c": 100, "k": "= 0.193 ns"}]}, "mark": {"type": "text", "fontSize": 10, "fontWeight": "bold", "align": "left", "baseline": "middle"}, "encoding": {"text": {"field": "k"}}}
     ]},
    {"width": 205, "height": 210,
     "resolve": {"axis": {"x": "independent"}},
     "encoding": {"x": {"field": "t", "type": "quantitative", "scale": {"domain": [30, 100], "nice": false}, "axis": {"orient": "bottom", "values": [30, 40, 50, 60, 70, 80, 90, 100], "title": "Time (ns)", "titlePadding": 7}},
                  "y": {"field": "c", "type": "quantitative", "scale": {"type": "log", "domain": [1, 10000], "nice": false}, "axis": {"values": [1, 10, 100, 1000, 10000], "title": "Intensity (counts)", "tickSize": 3, "labelFontSize": 9, "titlePadding": 17, "labelExpr": "datum.value == 1 ? '10⁰' : datum.value == 10 ? '10¹' : datum.value == 100 ? '10²' : datum.value == 1000 ? '10³' : '10⁴'"}}},
     "layer": [
      {"data": {"name": "i"}, "mark": {"type": "point", "filled": true, "size": 48, "opacity": 1, "stroke": "#ffffff", "strokeWidth": 0.4, "clip": false},
       "encoding": {"color": {"field": "s", "type": "nominal", "scale": {"domain": ["IRF", "AA", "AA + MWCNT"], "range": ["#2b2b2b", "#e3353b", "#4a63e6"]}, "legend": {"legendX": 117, "legendY": 14, "symbolType": "circle", "symbolSize": 45, "labelOffset": 8, "rowPadding": -2}}}},
      {"data": {"values": [{"t": 50.4, "c": 4170, "k": "(i)"}]}, "mark": {"type": "text", "font": "Liberation Serif", "fontWeight": "bold", "fontSize": 19, "align": "center", "baseline": "middle"},
       "encoding": {"text": {"field": "k"}, "x": {"field": "t", "type": "quantitative", "axis": {"orient": "bottom", "values": [35, 45, 55, 65, 75, 85, 95], "labels": false, "title": null, "domain": false, "tickSize": 2.5}}}},
      {"data": {"values": [{"t": 61.4, "c": 612, "k": "τ"}, {"t": 61.4, "c": 255, "k": "τ"}]}, "mark": {"type": "text", "fontSize": 12, "fontWeight": "bold", "align": "left", "baseline": "middle"}, "encoding": {"text": {"field": "k"}}},
      {"data": {"values": [{"t": 63.6, "c": 612, "k": "AA"}, {"t": 63.6, "c": 255, "k": "AA + MWCNT"}]}, "mark": {"type": "text", "fontSize": 8, "fontWeight": "bold", "align": "left", "baseline": "middle", "dy": 4}, "encoding": {"text": {"field": "k"}}},
      {"data": {"values": [{"t": 68.8, "c": 612, "k": "= 8.01 ns"}, {"t": 82.6, "c": 255, "k": "= 8.48 ns"}]}, "mark": {"type": "text", "fontSize": 10, "fontWeight": "bold", "align": "left", "baseline": "middle"}, "encoding": {"text": {"field": "k"}}}
     ]}
   ],
   "spacing": 47, "bounds": "flush",
   "resolve": {"scale": {"color": "independent", "x": "independent", "y": "independent"}, "legend": {"color": "independent"}}
  }
 ],
 "spacing": 0, "bounds": "flush",
 "resolve": {"scale": {"color": "independent", "x": "independent", "y": "independent"}, "legend": {"color": "independent"}}
}
]
}
